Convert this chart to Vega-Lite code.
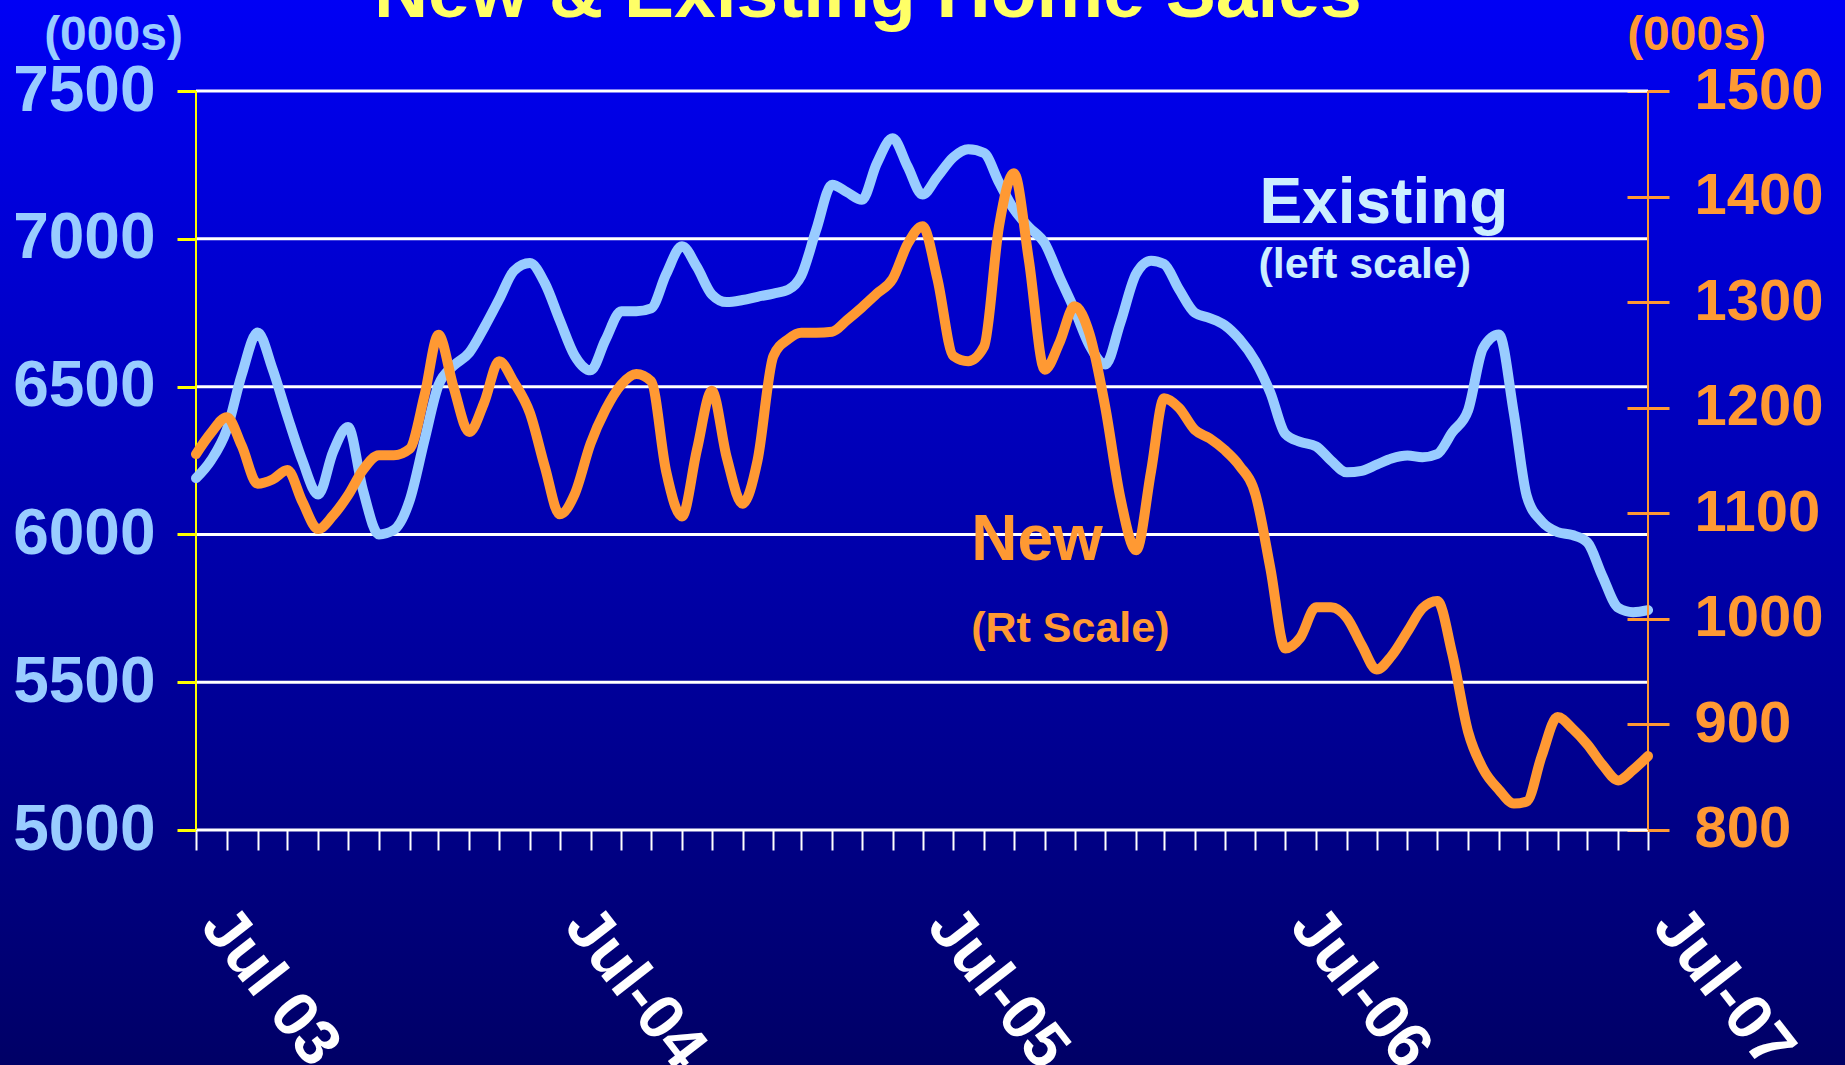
{
  "$schema": "https://vega.github.io/schema/vega-lite/v6.json",
  "width": 1845,
  "height": 1065,
  "autosize": {"type": "none"},
  "padding": 0,
  "background": "#000090",
  "config": {
    "view": {"stroke": null, "fill": {"gradient": "linear", "x1": 0, "y1": 0, "x2": 0, "y2": 1, "stops": [{"offset": 0, "color": "#0000F5"}, {"offset": 1, "color": "#000066"}]}},
    "font": "Liberation Sans",
    "axis": {"labelFont": "Liberation Sans", "labelFontWeight": "bold", "titleFont": "Liberation Sans", "titleFontWeight": "bold", "grid": false, "labelOverlap": false, "labelBound": false, "labelFlush": false, "labelLimit": 0}
  },
  "datasets": {
    "existing": [
      {"date": "2003-07-01", "sales": 6190}, {"date": "2003-07-16", "sales": 6250}, {"date": "2003-08-01", "sales": 6354}, {"date": "2003-08-16", "sales": 6540},
      {"date": "2003-09-01", "sales": 6683}, {"date": "2003-09-16", "sales": 6560}, {"date": "2003-10-01", "sales": 6400}, {"date": "2003-10-16", "sales": 6250},
      {"date": "2003-11-01", "sales": 6135}, {"date": "2003-11-16", "sales": 6280}, {"date": "2003-12-01", "sales": 6363}, {"date": "2003-12-16", "sales": 6150},
      {"date": "2004-01-01", "sales": 6000}, {"date": "2004-01-16", "sales": 6015}, {"date": "2004-02-01", "sales": 6115}, {"date": "2004-02-16", "sales": 6320},
      {"date": "2004-03-01", "sales": 6505}, {"date": "2004-03-16", "sales": 6570}, {"date": "2004-04-01", "sales": 6615}, {"date": "2004-04-16", "sales": 6700},
      {"date": "2004-05-01", "sales": 6795}, {"date": "2004-05-16", "sales": 6892}, {"date": "2004-06-01", "sales": 6918}, {"date": "2004-06-16", "sales": 6850},
      {"date": "2004-07-01", "sales": 6725}, {"date": "2004-07-16", "sales": 6605}, {"date": "2004-08-01", "sales": 6555}, {"date": "2004-08-16", "sales": 6658},
      {"date": "2004-09-01", "sales": 6755}, {"date": "2004-09-16", "sales": 6755}, {"date": "2004-10-01", "sales": 6765}, {"date": "2004-10-16", "sales": 6880},
      {"date": "2004-11-01", "sales": 6975}, {"date": "2004-11-16", "sales": 6905}, {"date": "2004-12-01", "sales": 6812}, {"date": "2004-12-16", "sales": 6786},
      {"date": "2005-01-01", "sales": 6793}, {"date": "2005-01-16", "sales": 6804}, {"date": "2005-02-01", "sales": 6815}, {"date": "2005-02-16", "sales": 6828},
      {"date": "2005-03-01", "sales": 6875}, {"date": "2005-03-16", "sales": 7030}, {"date": "2005-04-01", "sales": 7183}, {"date": "2005-04-16", "sales": 7158},
      {"date": "2005-05-01", "sales": 7132}, {"date": "2005-05-16", "sales": 7255}, {"date": "2005-06-01", "sales": 7340}, {"date": "2005-06-16", "sales": 7245},
      {"date": "2005-07-01", "sales": 7150}, {"date": "2005-07-16", "sales": 7210}, {"date": "2005-08-01", "sales": 7276}, {"date": "2005-08-16", "sales": 7303},
      {"date": "2005-09-01", "sales": 7290}, {"date": "2005-09-16", "sales": 7191}, {"date": "2005-10-01", "sales": 7100}, {"date": "2005-10-16", "sales": 7040},
      {"date": "2005-11-01", "sales": 6985}, {"date": "2005-11-16", "sales": 6870}, {"date": "2005-12-01", "sales": 6760}, {"date": "2005-12-16", "sales": 6640},
      {"date": "2006-01-01", "sales": 6575}, {"date": "2006-01-16", "sales": 6715}, {"date": "2006-02-01", "sales": 6882}, {"date": "2006-02-16", "sales": 6926},
      {"date": "2006-03-01", "sales": 6915}, {"date": "2006-03-16", "sales": 6830}, {"date": "2006-04-01", "sales": 6750}, {"date": "2006-04-16", "sales": 6732},
      {"date": "2006-05-01", "sales": 6708}, {"date": "2006-05-16", "sales": 6660}, {"date": "2006-06-01", "sales": 6585}, {"date": "2006-06-16", "sales": 6480},
      {"date": "2006-07-01", "sales": 6340}, {"date": "2006-07-16", "sales": 6313}, {"date": "2006-08-01", "sales": 6298}, {"date": "2006-08-16", "sales": 6250},
      {"date": "2006-09-01", "sales": 6210}, {"date": "2006-09-16", "sales": 6215}, {"date": "2006-10-01", "sales": 6236}, {"date": "2006-10-16", "sales": 6257},
      {"date": "2006-11-01", "sales": 6267}, {"date": "2006-11-16", "sales": 6261}, {"date": "2006-12-01", "sales": 6272}, {"date": "2006-12-16", "sales": 6345},
      {"date": "2007-01-01", "sales": 6420}, {"date": "2007-01-16", "sales": 6630}, {"date": "2007-02-01", "sales": 6676}, {"date": "2007-02-16", "sales": 6410},
      {"date": "2007-03-01", "sales": 6130}, {"date": "2007-03-16", "sales": 6044}, {"date": "2007-04-01", "sales": 6008}, {"date": "2007-04-16", "sales": 5998},
      {"date": "2007-05-01", "sales": 5973}, {"date": "2007-05-16", "sales": 5860}, {"date": "2007-06-01", "sales": 5752}, {"date": "2007-06-16", "sales": 5737},
      {"date": "2007-07-01", "sales": 5744}
    ],
    "new": [
      {"date": "2003-07-01", "sales": 1156}, {"date": "2003-07-16", "sales": 1176}, {"date": "2003-08-01", "sales": 1191}, {"date": "2003-08-16", "sales": 1164},
      {"date": "2003-09-01", "sales": 1128}, {"date": "2003-09-16", "sales": 1132}, {"date": "2003-10-01", "sales": 1141}, {"date": "2003-10-16", "sales": 1111},
      {"date": "2003-11-01", "sales": 1085}, {"date": "2003-11-16", "sales": 1098}, {"date": "2003-12-01", "sales": 1117}, {"date": "2003-12-16", "sales": 1141},
      {"date": "2004-01-01", "sales": 1155}, {"date": "2004-01-16", "sales": 1155}, {"date": "2004-02-01", "sales": 1161}, {"date": "2004-02-16", "sales": 1212},
      {"date": "2004-03-01", "sales": 1269}, {"date": "2004-03-16", "sales": 1220}, {"date": "2004-04-01", "sales": 1177}, {"date": "2004-04-16", "sales": 1205},
      {"date": "2004-05-01", "sales": 1244}, {"date": "2004-05-16", "sales": 1224}, {"date": "2004-06-01", "sales": 1195}, {"date": "2004-06-16", "sales": 1144},
      {"date": "2004-07-01", "sales": 1099}, {"date": "2004-07-16", "sales": 1118}, {"date": "2004-08-01", "sales": 1166}, {"date": "2004-08-16", "sales": 1198},
      {"date": "2004-09-01", "sales": 1222}, {"date": "2004-09-16", "sales": 1232}, {"date": "2004-10-01", "sales": 1225}, {"date": "2004-10-16", "sales": 1140},
      {"date": "2004-11-01", "sales": 1097}, {"date": "2004-11-16", "sales": 1160}, {"date": "2004-12-01", "sales": 1216}, {"date": "2004-12-16", "sales": 1153},
      {"date": "2005-01-01", "sales": 1109}, {"date": "2005-01-16", "sales": 1150}, {"date": "2005-02-01", "sales": 1249}, {"date": "2005-02-16", "sales": 1265},
      {"date": "2005-03-01", "sales": 1271}, {"date": "2005-03-16", "sales": 1271}, {"date": "2005-04-01", "sales": 1272}, {"date": "2005-04-16", "sales": 1283},
      {"date": "2005-05-01", "sales": 1295}, {"date": "2005-05-16", "sales": 1308}, {"date": "2005-06-01", "sales": 1322}, {"date": "2005-06-16", "sales": 1355},
      {"date": "2005-07-01", "sales": 1372}, {"date": "2005-07-16", "sales": 1322}, {"date": "2005-08-01", "sales": 1249}, {"date": "2005-08-16", "sales": 1244},
      {"date": "2005-09-01", "sales": 1258}, {"date": "2005-09-16", "sales": 1372}, {"date": "2005-10-01", "sales": 1422}, {"date": "2005-10-16", "sales": 1340},
      {"date": "2005-11-01", "sales": 1236}, {"date": "2005-11-16", "sales": 1262}, {"date": "2005-12-01", "sales": 1296}, {"date": "2005-12-16", "sales": 1270},
      {"date": "2006-01-01", "sales": 1200}, {"date": "2006-01-16", "sales": 1115}, {"date": "2006-02-01", "sales": 1065}, {"date": "2006-02-16", "sales": 1140},
      {"date": "2006-03-01", "sales": 1209}, {"date": "2006-03-16", "sales": 1200}, {"date": "2006-04-01", "sales": 1179}, {"date": "2006-04-16", "sales": 1171},
      {"date": "2006-05-01", "sales": 1160}, {"date": "2006-05-16", "sales": 1145}, {"date": "2006-06-01", "sales": 1118}, {"date": "2006-06-16", "sales": 1048},
      {"date": "2006-07-01", "sales": 972}, {"date": "2006-07-16", "sales": 982}, {"date": "2006-08-01", "sales": 1011}, {"date": "2006-08-16", "sales": 1011},
      {"date": "2006-09-01", "sales": 1001}, {"date": "2006-09-16", "sales": 975}, {"date": "2006-10-01", "sales": 952}, {"date": "2006-10-16", "sales": 965},
      {"date": "2006-11-01", "sales": 988}, {"date": "2006-11-16", "sales": 1010}, {"date": "2006-12-01", "sales": 1017}, {"date": "2006-12-16", "sales": 967},
      {"date": "2007-01-01", "sales": 893}, {"date": "2007-01-16", "sales": 858}, {"date": "2007-02-01", "sales": 838}, {"date": "2007-02-16", "sales": 825},
      {"date": "2007-03-01", "sales": 827}, {"date": "2007-03-16", "sales": 870}, {"date": "2007-04-01", "sales": 907}, {"date": "2007-04-16", "sales": 896},
      {"date": "2007-05-01", "sales": 881}, {"date": "2007-05-16", "sales": 862}, {"date": "2007-06-01", "sales": 847}, {"date": "2007-06-16", "sales": 857},
      {"date": "2007-07-01", "sales": 870}
    ],
    "gridlines": [{"v": 5000}, {"v": 5500}, {"v": 6000}, {"v": 6500}, {"v": 7000}, {"v": 7500}]
  },
  "layer": [
    {
      "layer": [
        {
          "data": {"name": "gridlines"},
          "mark": {"type": "rule", "color": "#FFFFFF", "strokeWidth": 3},
          "encoding": {
            "x": {"datum": {"year": 2003, "month": 7, "date": 1, "utc": true}, "type": "temporal", "scale": {"type": "utc", "nice": false, "domain": [{"year": 2002, "month": 12, "date": 15, "hours": 19, "utc": true}, {"year": 2008, "month": 1, "date": 15, "hours": 5, "utc": true}]}},
            "x2": {"datum": {"year": 2007, "month": 7, "date": 1, "utc": true}},
            "y": {"field": "v", "type": "quantitative", "scale": {"domain": [4205, 7808], "nice": false, "zero": false},
              "axis": {"orient": "left", "offset": -196, "values": [5000, 5500, 6000, 6500, 7000, 7500], "tickCount": 100, "format": "d", "domain": false, "grid": false,
                "tickColor": "#FFFF00", "tickSize": 19, "tickWidth": 3, "labelColor": "#99CCFF", "labelFontSize": 64, "labelPadding": 22,
                "title": "(000s)", "titleColor": "#99CCFF", "titleFontSize": 48, "titleAngle": 0, "titleX": -83, "titleY": 35, "titleAlign": "center", "titleBaseline": "middle"}}
          }
        },
        {
          "data": {"values": [{}]},
          "mark": {"type": "rule", "color": "#FFFF00", "strokeWidth": 2},
          "encoding": {
            "x": {"datum": {"year": 2003, "month": 7, "date": 1, "utc": true}, "type": "temporal"},
            "y": {"datum": 5000, "type": "quantitative"},
            "y2": {"datum": 7500}
          }
        },
        {
          "data": {"name": "existing"},
          "mark": {"type": "line", "color": "#99CCFF", "strokeWidth": 10, "strokeCap": "round", "strokeJoin": "round", "interpolate": "monotone"},
          "encoding": {
            "x": {"field": "date", "type": "temporal", "scale": {"type": "utc", "nice": false, "domain": [{"year": 2002, "month": 12, "date": 15, "hours": 19, "utc": true}, {"year": 2008, "month": 1, "date": 15, "hours": 5, "utc": true}]},
              "axis": {"orient": "bottom", "offset": -235, "domain": false, "grid": false, "title": null, "tickCount": 200,
                "values": [1057017600000, 1059696000000, 1062374400000, 1064966400000, 1067644800000, 1070236800000,
                  1072915200000, 1075593600000, 1078099200000, 1080777600000, 1083369600000, 1086048000000,
                  1088640000000, 1091318400000, 1093996800000, 1096588800000, 1099267200000, 1101859200000,
                  1104537600000, 1107216000000, 1109635200000, 1112313600000, 1114905600000, 1117584000000,
                  1120176000000, 1122854400000, 1125532800000, 1128124800000, 1130803200000, 1133395200000,
                  1136073600000, 1138752000000, 1141171200000, 1143849600000, 1146441600000, 1149120000000,
                  1151712000000, 1154390400000, 1157068800000, 1159660800000, 1162339200000, 1164931200000,
                  1167609600000, 1170288000000, 1172707200000, 1175385600000, 1177977600000, 1180656000000,
                  1183248000000],
                "labelExpr": "utcmonth(datum.value) == 6 ? (utcyear(datum.value) == 2003 ? 'Jul 03' : utcFormat(datum.value, '%b-%y')) : ''",
                "tickColor": "#FFFFFF", "tickSize": 20, "tickWidth": 2,
                "labelAngle": 52, "labelAlign": "left", "labelBaseline": "top", "labelPadding": 45, "labelOffset": 43,
                "labelColor": "#FFFFFF", "labelFontSize": 64}},
            "y": {"field": "sales", "type": "quantitative", "scale": {"domain": [4205, 7808], "nice": false, "zero": false}}
          }
        },
        {
          "data": {"values": [{"date": "2005-05-07", "value": 7750, "label": "New & Existing Home Sales"}]},
          "mark": {"type": "text", "align": "center", "baseline": "alphabetic", "fontSize": 75, "fontWeight": "bold", "color": "#FFFF66", "font": "Liberation Sans"},
          "encoding": {
            "x": {"field": "date", "type": "temporal"},
            "y": {"field": "value", "type": "quantitative"},
            "text": {"field": "label"}
          }
        },
        {
          "data": {"values": [{"date": "2006-06-05", "value": 7053, "label": "Existing"}]},
          "mark": {"type": "text", "align": "left", "baseline": "alphabetic", "fontSize": 64, "fontWeight": "bold", "color": "#CCEEFF", "font": "Liberation Sans"},
          "encoding": {
            "x": {"field": "date", "type": "temporal"},
            "y": {"field": "value", "type": "quantitative"},
            "text": {"field": "label"}
          }
        },
        {
          "data": {"values": [{"date": "2006-06-04", "value": 6867, "label": "(left scale)"}]},
          "mark": {"type": "text", "align": "left", "baseline": "alphabetic", "fontSize": 43, "fontWeight": "bold", "color": "#CCEEFF", "font": "Liberation Sans"},
          "encoding": {
            "x": {"field": "date", "type": "temporal"},
            "y": {"field": "value", "type": "quantitative"},
            "text": {"field": "label"}
          }
        }
      ]
    },
    {
      "layer": [
        {
          "data": {"values": [{}]},
          "mark": {"type": "rule", "color": "#FF9933", "strokeWidth": 2},
          "encoding": {
            "x": {"datum": {"year": 2007, "month": 7, "date": 1, "utc": true}, "type": "temporal"},
            "y": {"datum": 800, "type": "quantitative", "scale": {"domain": [577.4, 1586.2], "nice": false, "zero": false},
              "axis": {"orient": "right", "offset": -218, "values": [800, 900, 1000, 1100, 1200, 1300, 1400, 1500], "tickCount": 100, "format": "d", "domain": false, "grid": false,
                "tickColor": "#FF9933", "tickSize": 42, "tickWidth": 3, "labelColor": "#FF9933", "labelFontSize": 58, "labelPadding": 25,
                "title": "(000s)", "titleColor": "#FF9933", "titleFontSize": 48, "titleAngle": 0, "titleX": 69, "titleY": 35, "titleAlign": "center", "titleBaseline": "middle"}},
            "y2": {"datum": 1500}
          }
        },
        {
          "data": {"name": "new"},
          "mark": {"type": "line", "color": "#FF9933", "strokeWidth": 10, "strokeCap": "round", "strokeJoin": "round", "interpolate": "monotone"},
          "encoding": {
            "x": {"field": "date", "type": "temporal"},
            "y": {"field": "sales", "type": "quantitative", "scale": {"domain": [577.4, 1586.2], "nice": false, "zero": false}}
          }
        },
        {
          "data": {"values": [{"date": "2005-08-19", "value": 1056, "label": "New"}]},
          "mark": {"type": "text", "align": "left", "baseline": "alphabetic", "fontSize": 64, "fontWeight": "bold", "color": "#FF9933", "font": "Liberation Sans"},
          "encoding": {
            "x": {"field": "date", "type": "temporal"},
            "y": {"field": "value", "type": "quantitative"},
            "text": {"field": "label"}
          }
        },
        {
          "data": {"values": [{"date": "2005-08-19", "value": 978, "label": "(Rt Scale)"}]},
          "mark": {"type": "text", "align": "left", "baseline": "alphabetic", "fontSize": 43, "fontWeight": "bold", "color": "#FF9933", "font": "Liberation Sans"},
          "encoding": {
            "x": {"field": "date", "type": "temporal"},
            "y": {"field": "value", "type": "quantitative"},
            "text": {"field": "label"}
          }
        }
      ]
    }
  ],
  "resolve": {"scale": {"y": "independent"}}
}
